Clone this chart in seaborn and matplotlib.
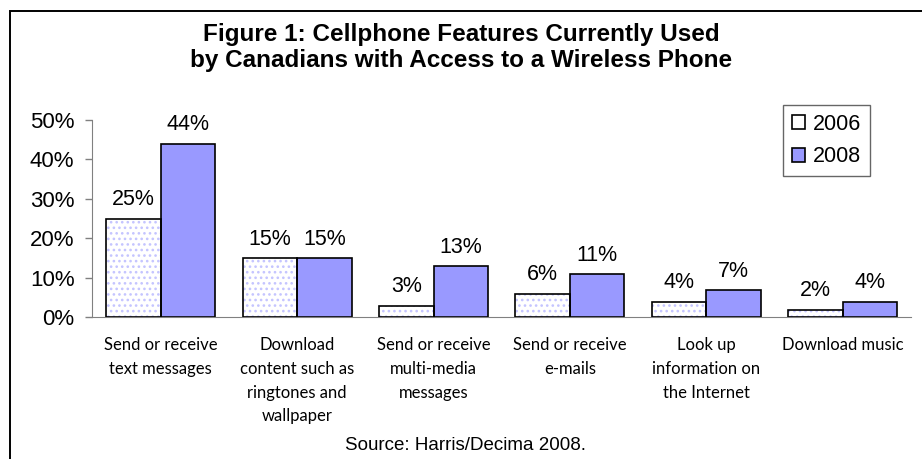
import numpy as np
import pandas as pd
import seaborn as sns
import matplotlib.pyplot as plt
from matplotlib.patches import Rectangle

# data
features = ["Send or receive\ntext messages",
            "Download\ncontent such as\nringtones and\nwallpaper",
            "Send or receive\nmulti-media\nmessages",
            "Send or receive\ne-mails",
            "Look up\ninformation on\nthe Internet",
            "Download music"]
years = ["2006", "2008"]
pct_2006 = [25, 15, 3, 6, 4, 2]
pct_2008 = [44, 15, 13, 11, 7, 4]

df = pd.DataFrame({
    "Feature": features * 2,
    "Year": [years[0]] * len(features) + [years[1]] * len(features),
    "Percent": pct_2006 + pct_2008,
})

sns.set_style("white")
plt.rcParams['font.family'] = ['Liberation Sans', 'DejaVu Sans']
plt.rcParams['hatch.linewidth'] = 1.1
plt.rcParams['text.color'] = 'black'
plt.rcParams['xtick.color'] = 'black'
plt.rcParams['ytick.color'] = 'black'

fig = plt.figure(figsize=(9.22, 4.59), dpi=100)
ax = fig.add_axes([0.1003, 0.3083, 0.8877, 0.4303])

sns.barplot(data=df, x="Feature", y="Percent", hue="Year",
            palette={"2006": "white", "2008": "#9999ff"},
            edgecolor="black", linewidth=1.2, width=0.8,
            saturation=1, ax=ax)
ax.get_legend().remove()

# 2006 bars: white with light blue dots, black outline on top
for bar in ax.containers[0]:
    bar.set_hatch("...")
    bar.set_edgecolor("#c4c4ff")
    bar.set_linewidth(0)
    ax.add_patch(Rectangle(bar.get_xy(), bar.get_width(), bar.get_height(),
                           fill=False, edgecolor="black", linewidth=1.2, zorder=3))

for cont, vals in zip(ax.containers, [pct_2006, pct_2008]):
    ax.bar_label(cont, labels=[f"{v}%" for v in vals], padding=6,
                 fontsize=15.5, color="black")

ax.set_ylim(0, 50)
ax.set_yticks(range(0, 51, 10))
ax.set_yticklabels([f"{t}%" for t in range(0, 51, 10)], fontsize=16)
ax.set_xlim(-0.5, len(features) - 0.5)
ax.set_xlabel("")
ax.set_ylabel("")

ax.set_xticks(np.arange(-0.5, len(features), 1), minor=True)
ax.tick_params(axis="x", which="major", length=0, pad=14, labelcolor="black")
ax.tick_params(axis="x", which="minor", length=6, color="#808080", width=1)
ax.tick_params(axis="y", length=5, color="#808080", width=1, pad=8,
               left=True, labelcolor="black")
for lbl in ax.get_xticklabels():
    lbl.set_fontfamily(['Lato', 'DejaVu Sans'])
    lbl.set_fontsize(12)
    lbl.set_linespacing(1.6)
    lbl.set_verticalalignment("top")

sns.despine(ax=ax)
ax.spines["left"].set_color("#808080")
ax.spines["bottom"].set_color("#808080")

handles = [Rectangle((0, 0), 1, 1, facecolor="white", edgecolor="black", lw=1.2),
           Rectangle((0, 0), 1, 1, facecolor="#9999ff", edgecolor="black", lw=1.2)]
leg = fig.legend(handles, years, loc="upper left", bbox_to_anchor=(783 / 922, 1 - 105 / 459),
                 borderaxespad=0, fontsize=15.5, frameon=True, fancybox=False,
                 edgecolor="#404040", handlelength=0.6, handleheight=0.6,
                 handletextpad=0.4, borderpad=0.4, labelspacing=0.55)
leg.get_frame().set_linewidth(1.0)
for t in leg.get_texts():
    t.set_color("black")

fig.text(0.5, 1 - 47.5 / 459,
         "Figure 1: Cellphone Features Currently Used\nby Canadians with Access to a Wireless Phone",
         ha="center", va="center", fontsize=17.5, fontweight="bold",
         linespacing=1.12, color="black")
fig.text(465 / 922, 1 - 446 / 459, "Source: Harris/Decima 2008.",
         ha="center", va="center", fontsize=13.5, color="black")

# outer chart border
fig.add_artist(Rectangle((10 / 922, -0.1), 1.2, 1 - 11 / 459 + 0.1,
                         transform=fig.transFigure, fill=False,
                         edgecolor="black", linewidth=1.4, clip_on=False))

fig.savefig("out.png", dpi=100)
